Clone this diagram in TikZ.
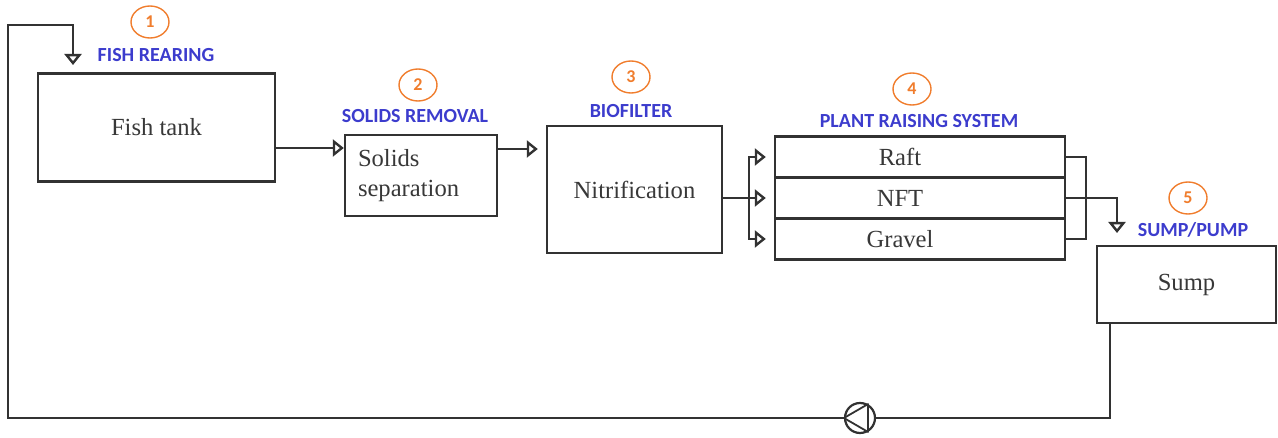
\documentclass[tikz,border=0pt]{standalone}
\usepackage{fontspec}
\setmainfont{Liberation Serif}
\newfontfamily\tagfont{Carlito}
\usetikzlibrary{arrows.meta,shapes.geometric}
\definecolor{linegray}{RGB}{50,50,50}
\definecolor{tagblue}{RGB}{60,60,205}
\definecolor{numorange}{RGB}{240,125,45}

\begin{document}
\begin{tikzpicture}[x=0.5pt, y=-0.5pt,
        box/.style={draw=linegray, line width=1.2pt, rectangle, text=black!78, font=\fontsize{12.3}{15}\selectfont},
        tag/.style={text=tagblue, font=\tagfont\bfseries\fontsize{10}{12}\selectfont, inner sep=0pt},
        num/.style={ellipse, draw=numorange, line width=0.7pt, minimum width=19pt, minimum height=16pt, inner sep=0pt, text=numorange, font=\tagfont\bfseries\fontsize{9}{10}\selectfont},
        flow/.style={draw=linegray, line width=1.2pt, -{Triangle[open, length=5.5pt, width=8.5pt]}},
        pipe/.style={draw=linegray, line width=1.2pt}]
        \useasboundingbox (0,0) rectangle (1278,438);

        % units
        \node[box, minimum width=118.5pt, minimum height=54pt] (fish) at (156.5,127.5) {Fish tank};
        \node[box, minimum width=76pt, minimum height=40.5pt, text width=63pt, align=left, inner xsep=6.5pt] (sol) at (421,175.5) {Solids\\separation};
        \node[box, minimum width=87.5pt, minimum height=63.5pt] (bio) at (634.5,189.5) {Nitrification};
        \node[box, minimum width=145pt, minimum height=20.5pt] (raft) at (920,157) {\hspace*{-20pt}Raft};
        \node[box, minimum width=145pt, minimum height=20.5pt] (nft) at (920,198) {\hspace*{-20pt}NFT};
        \node[box, minimum width=145pt, minimum height=20.5pt] (gravel) at (920,239) {\hspace*{-20pt}Gravel};
        \node[box, minimum width=89.5pt, minimum height=38.5pt] (sump) at (1186.5,284.5) {Sump};
        \node[circle, draw=linegray, line width=1.1pt, minimum size=15pt, inner sep=0pt] (pump) at (860,418) {};
        \draw[linegray, line width=0.9pt, line join=round] (pump.west) -- (pump.60) -- (pump.-60) -- cycle;

        % numbers and titles
        \node[num] (n1) at (150,22) {1};
        \node[tag] (t1) at (156,55) {FISH REARING};
        \node[num] (n2) at (418,85) {2};
        \node[tag] (t2) at (415,116) {SOLIDS REMOVAL};
        \node[num] (n3) at (631,77) {3};
        \node[tag] (t3) at (631,111) {BIOFILTER};
        \node[num] (n4) at (912,89) {4};
        \node[tag] (t4) at (919,121) {PLANT RAISING SYSTEM};
        \node[num] (n5) at (1188,198) {5};
        \node[tag] (t5) at (1193,230) {SUMP/PUMP};

        % flow
        \coordinate (o1) at ([yshift=-10.25pt]fish.east);
        \draw[flow] (o1) -- (o1 -| sol.west);
        \coordinate (o2) at ([yshift=13.25pt]sol.east);
        \draw[flow, shorten >=4pt] (o2) -- (o2 -| bio.west);
        \coordinate (o3) at (bio.east |- nft.west);
        \coordinate (sp) at (749,198);
        \draw[pipe] (o3) -- (sp);
        \draw[flow, shorten >=4pt] (sp) |- (raft.west);
        \draw[flow, shorten >=4pt] (sp) -- (nft.west);
        \draw[flow, shorten >=4pt] (sp) |- (gravel.west);
        \coordinate (jn) at (1086,198);
        \draw[pipe] (raft.east) -| (jn) |- (gravel.east);
        \coordinate (in5) at (1117,233);
        \draw[flow] (nft.east) -| (in5);

        % return loop
        \coordinate (out5) at ([xshift=-38.25pt]sump.south);
        \coordinate (c2) at (8,25);
        \coordinate (in1) at (73,65);
        \draw[pipe] (out5) |- (pump.east);
        \draw[flow] (pump.west) -| (c2) -| (in1);
    \end{tikzpicture}
\end{document}
